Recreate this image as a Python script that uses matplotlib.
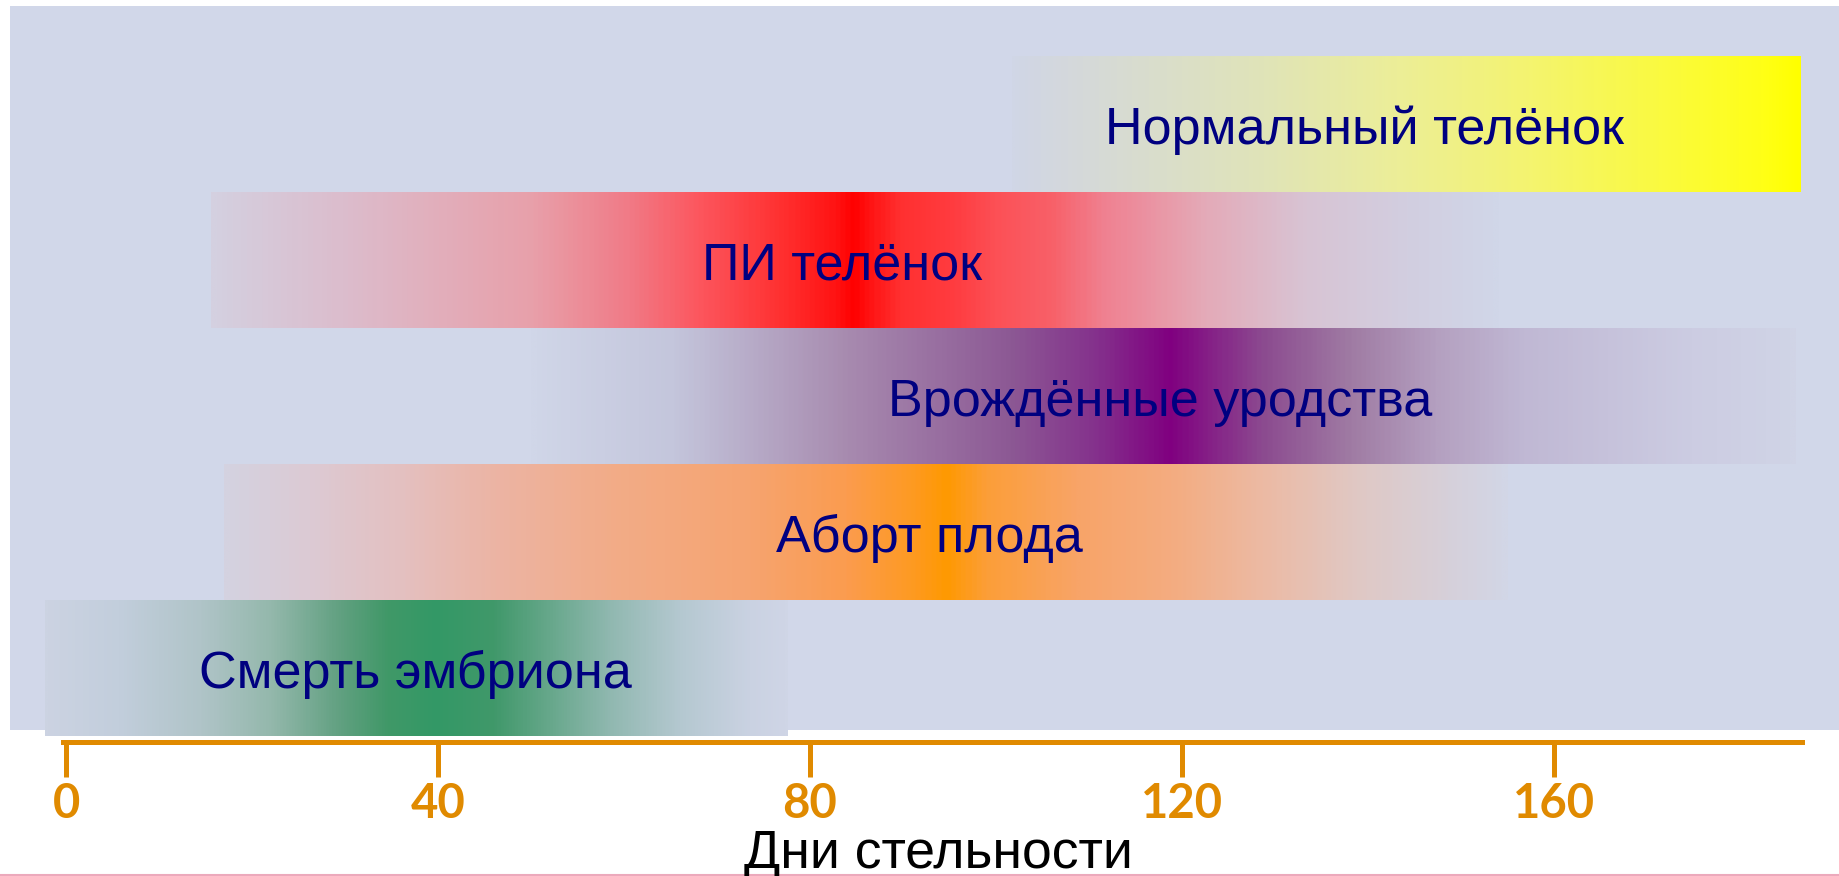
import numpy as np
import matplotlib
matplotlib.use('Agg')
import matplotlib.pyplot as plt
from matplotlib.colors import LinearSegmentedColormap
from matplotlib.lines import Line2D

# outcome bands, bottom to top
labels = ['Смерть эмбриона', 'Аборт плода', 'Врождённые уродства', 'ПИ телёнок', 'Нормальный телёнок']
label_x = [37.6, 92.8, 117.6, 83.5, 139.6]

# colour read along each band: (day, colour); first/last day = band edges
embryo_death = [(-2.3, '#ccd3e2'), (5.5, '#c2cedc'), (14.3, '#b0c4c8'), (21.9, '#94b8ac'),
                (29.5, '#60a080'), (34.5, '#409868'), (39.6, '#339966'), (45.9, '#40986a'),
                (52.2, '#68a88c'), (58.5, '#90b8b0'), (66, '#b4c8d0'), (73.5, '#cad2e2'),
                (77.5, '#cfd5e6')]
abortion = [(17, '#d4d2e0'), (25.8, '#dccad4'), (36, '#e4c0c0'), (46, '#ecb4a4'),
            (58.5, '#f2ac88'), (73.5, '#f6a470'), (83.6, '#fb9c50'), (91.3, '#fe9a20'),
            (94.7, '#ff9900'), (99, '#fc9e38'), (109, '#f8a468'), (119, '#f4ac80'),
            (129, '#ecbaa4'), (139, '#e0c8c4'), (149, '#d6d0da'), (155, '#d2d6e6')]
defects = [(50, '#d0d6e8'), (65, '#c4c6dc'), (83.4, '#a88cb0'), (101.7, '#8c5894'),
           (111, '#84308c'), (118.7, '#800080'), (129, '#8c4c90'), (138.5, '#a07ca4'),
           (147.6, '#b4a0c0'), (157, '#c0b8d4'), (175, '#cccce2'), (186, '#d0d4e6')]
pi_calf = [(15.6, '#d4d0e0'), (30, '#dcbccc'), (50, '#e8a0aa'), (60, '#f07c88'),
           (67.6, '#fc5860'), (76.9, '#ff3030'), (82.5, '#ff1414'), (84.7, '#ff0000'),
           (87, '#ff1818'), (89.7, '#ff3030'), (95.5, '#ff3c40'), (100.6, '#fc5258'),
           (106, '#f86068'), (111.6, '#f08090'), (122.6, '#e4aab8'), (133.5, '#d8c4d4'),
           (144.5, '#d2cee0'), (154, '#d0d6e8')]
normal_calf = [(101.7, '#d0d6e6'), (107.4, '#d4d8dc'), (128.8, '#e0e4b8'), (143, '#ecee98'),
               (157.3, '#f4f470'), (171.5, '#fafa40'), (182.3, '#ffff18'), (186.5, '#ffff00')]
bands = [embryo_death, abortion, defects, pi_calf, normal_calf]

ticks = [0, 40, 80, 120, 160]
xlabel = 'Дни стельности'

bg = '#d1d7e9'
W, H = 1839, 876

fig = plt.figure(figsize=(W / 100, H / 100), dpi=100)
fig.patch.set_facecolor('white')

# x scale: day 0 at 66 px, 9.3 px per day
x0_px, ppd = 66, 9.3
xlim = ((10 - x0_px) / ppd, (W - x0_px) / ppd)

ax = fig.add_axes([10 / W, (H - 730) / H, (W - 10) / W, 724 / H])
ax.set_facecolor(bg)
ax.set_xlim(*xlim)
ax.set_ylim(0.045, 5.37)
for s in ax.spines.values():
    s.set_visible(False)
ax.set_xticks([])
ax.set_yticks([])

grad = np.linspace(0, 1, 800).reshape(1, -1)
for i, (lab, band) in enumerate(zip(labels, bands)):
    days = [d for d, _ in band]
    s, e = days[0], days[-1]
    stops = [((d - s) / (e - s), c) for d, c in band]
    cmap = LinearSegmentedColormap.from_list('band%d' % i, stops)
    ax.imshow(grad, cmap=cmap, extent=[s, e, i, i + 1], aspect='auto',
              interpolation='bilinear', clip_on=False, zorder=2)
    ax.text(label_x[i], i + 0.355, lab, ha='center', va='baseline',
            fontsize=37.5, color='#000080', family='Liberation Sans', zorder=3)

# day axis below the panel
ax2 = fig.add_axes([10 / W, (H - 741.5) / H, (W - 10) / W, 0.0001])
ax2.set_xlim(*xlim)
ax2.patch.set_visible(False)
for k in ['top', 'left', 'right']:
    ax2.spines[k].set_visible(False)
ax2.spines['bottom'].set_color('#e08a00')
ax2.spines['bottom'].set_linewidth(3.6)
ax2.spines['bottom'].set_bounds(-0.3, 186.7)
ax2.set_yticks([])
ax2.set_xticks(ticks)
ax2.set_xticklabels([str(t) for t in ticks])
ax2.tick_params(axis='x', direction='out', length=25, width=3.6, color='#e08a00',
                pad=4, labelsize=34, labelcolor='#e08a00')
for tl in ax2.get_xticklabels():
    tl.set_family('Lato')
    tl.set_fontweight('bold')

fig.text(938 / W, (H - 868) / H, xlabel, ha='center', va='baseline',
         fontsize=38.5, color='black', family='Liberation Sans')

# thin pink rule at the very bottom of the slide
fig.add_artist(Line2D([0, 1], [1.5 / H, 1.5 / H], transform=fig.transFigure,
                      color='#e07090', lw=1.5, alpha=0.6))

fig.savefig('out.png', dpi=100, facecolor='white')
